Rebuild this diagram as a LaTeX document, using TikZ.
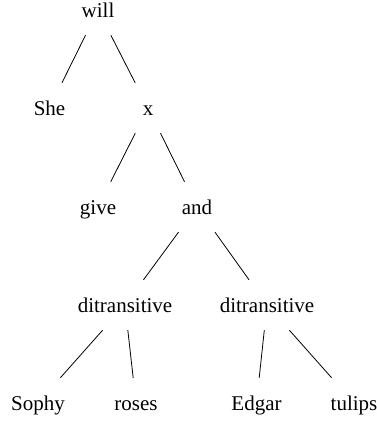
\documentclass[tikz,border=0pt]{standalone}
\usepackage{fontspec}
\setmainfont{Liberation Serif}
\begin{document}
\begin{tikzpicture}[x=1pt,y=-1pt,
  tnode/.style={rectangle, inner sep=0pt, minimum height=50pt, minimum width=50pt,
    text height=14pt, text depth=0pt, font=\fontsize{21}{25}\selectfont},
  edge/.style={draw=black, line width=0.8pt}]
\useasboundingbox (0,0) rectangle (377,423);
\node[tnode] (will) at (98,10) {will};
\node[tnode] (she) at (49.5,108) {She};
\node[tnode] (x) at (148,108) {x};
\node[tnode] (give) at (98,207) {give};
\node[tnode] (and) at (197,207) {and};
\node[tnode] (ditl) at (125,305) {ditransitive};
\node[tnode] (ditr) at (267,305) {ditransitive};
\node[tnode] (sophy) at (38,403) {Sophy};
\node[tnode] (roses) at (136,403) {roses};
\node[tnode] (edgar) at (256.5,403) {Edgar};
\node[tnode] (tulips) at (354,403) {tulips};
\draw[edge] (will) -- (she);
\draw[edge] (will) -- (x);
\draw[edge] (x) -- (give);
\draw[edge] (x) -- (and);
\draw[edge] (and) -- (ditl);
\draw[edge] (and) -- (ditr);
\draw[edge] (ditl) -- (sophy);
\draw[edge] (ditl) -- (roses);
\draw[edge] (ditr) -- (edgar);
\draw[edge] (ditr) -- (tulips);
\end{tikzpicture}
\end{document}
